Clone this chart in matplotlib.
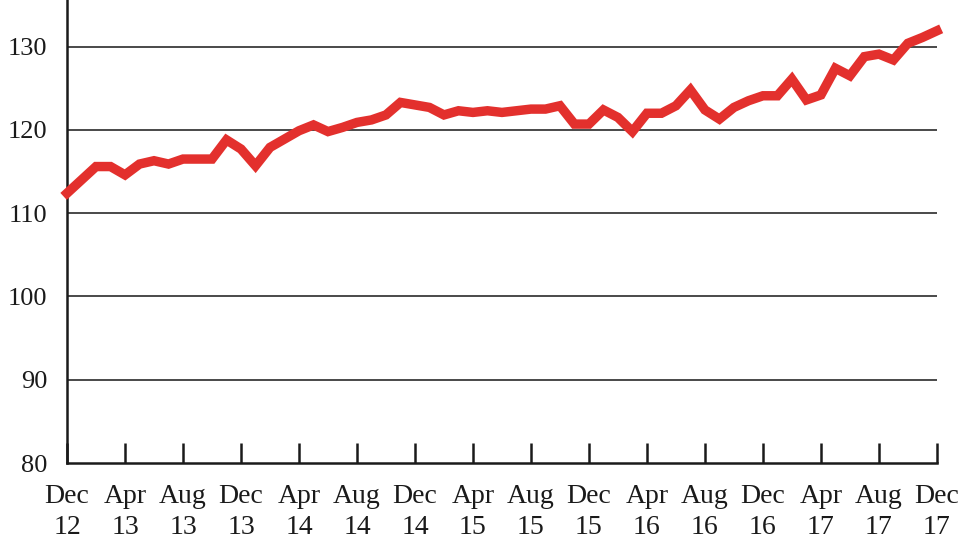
import matplotlib
matplotlib.use("Agg")
import matplotlib.pyplot as plt
import numpy as np

plt.rcParams['font.family'] = ['Liberation Serif', 'DejaVu Serif']

# Monthly index, Dec 2012 .. Dec 2017
values = [112.4, 114.0, 115.6, 115.6, 114.6, 115.9, 116.3, 115.9, 116.5, 116.5,
          116.5, 118.8, 117.7, 115.7, 117.9, 118.9, 119.9, 120.6, 119.8, 120.3,
          120.9, 121.2, 121.8, 123.3, 123.0, 122.7, 121.8, 122.3, 122.1, 122.3,
          122.1, 122.3, 122.5, 122.5, 122.9, 120.7, 120.7, 122.4, 121.5, 119.8,
          122.0, 122.0, 122.9, 124.8, 122.4, 121.3, 122.7, 123.5, 124.1, 124.1,
          126.1, 123.6, 124.2, 127.4, 126.5, 128.8, 129.1, 128.4, 130.4, 131.1,
          131.9]
tick_labels = ["Dec\n12", "Apr\n13", "Aug\n13", "Dec\n13", "Apr\n14", "Aug\n14",
               "Dec\n14", "Apr\n15", "Aug\n15", "Dec\n15", "Apr\n16", "Aug\n16",
               "Dec\n16", "Apr\n17", "Aug\n17", "Dec\n17"]
y_ticks = [80, 90, 100, 110, 120, 130]

fig = plt.figure(figsize=(9.8, 5.52), dpi=100)
ax = fig.add_axes([0.0684, 0.1612, 0.956 - 0.0684, 1 - 0.1612])

x = np.arange(len(values))
for yv in y_ticks[1:]:
    ax.axhline(yv, color='#3a3a3a', lw=1.3, zorder=1)
ax.plot(x, values, color='#e3302d', lw=6.8, solid_joinstyle='miter', zorder=3,
        clip_on=False)

ax.set_xlim(0, 60)
ax.set_ylim(80, 135.6)
ax.set_xticks(np.arange(0, 61, 4))
ax.set_xticklabels(tick_labels, fontsize=20, linespacing=1.3)
ax.set_yticks(y_ticks)
ax.set_yticklabels([str(v) for v in y_ticks], fontsize=19)

ax.tick_params(axis='x', direction='in', length=14.4, width=1.8, pad=15,
               color='#1a1a1a', labelcolor='#1a1a1a')
ax.tick_params(axis='y', length=0, pad=14, labelcolor='#1a1a1a')

for s in ['top', 'right']:
    ax.spines[s].set_visible(False)
for s in ['left', 'bottom']:
    ax.spines[s].set_linewidth(1.8)
    ax.spines[s].set_color('#1a1a1a')

fig.savefig('out.png', dpi=100)
